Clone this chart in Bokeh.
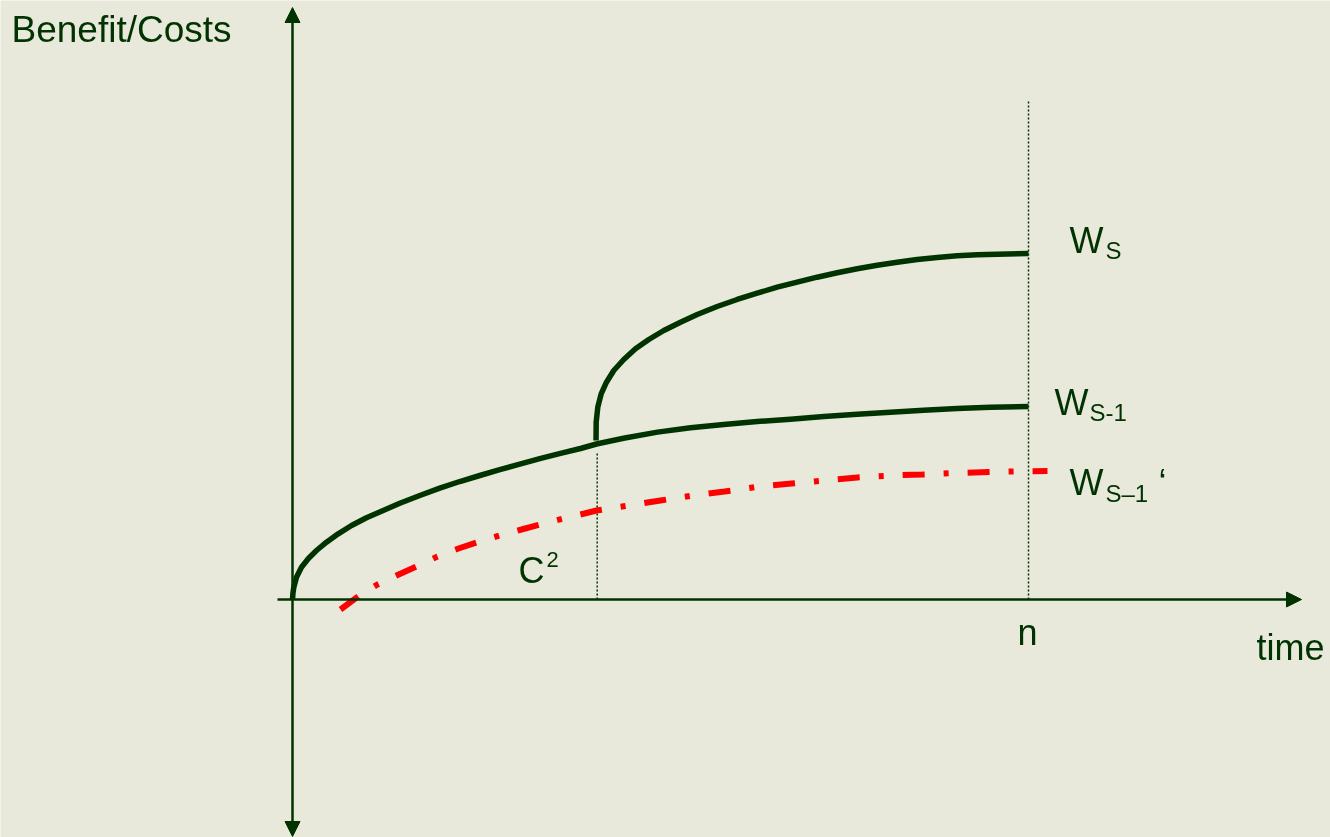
from bokeh.plotting import figure
from bokeh.models import Range1d, Arrow, NormalHead, Label
from bokeh.embed import file_html
from bokeh.resources import INLINE

# ---- data (time units: n = 10; benefit units arbitrary) ----
N_TIME = 10.0
C2_TIME = 4.13

ws1_t = [0.0, 0.007, 0.018, 0.054, 0.122, 0.213, 0.326, 0.462, 0.621, 0.802,
         1.005, 1.232, 1.458, 1.730, 2.001, 2.273, 2.545, 2.817, 3.088, 3.360,
         3.641, 3.913, 4.130, 4.497, 4.959, 5.408, 5.860, 6.314, 6.766, 7.219,
         7.673, 8.125, 8.577, 9.031, 9.484, 10.0]
ws1_v = [0.0, 0.202, 0.355, 0.645, 0.934, 1.176, 1.416, 1.656, 1.899, 2.139,
         2.361, 2.572, 2.783, 3.006, 3.217, 3.410, 3.584, 3.751, 3.913, 4.069,
         4.223, 4.364, 4.494, 4.659, 4.838, 4.962, 5.058, 5.145, 5.211, 5.289,
         5.355, 5.413, 5.471, 5.520, 5.558, 5.578]

ws_t = [4.124, 4.126, 4.148, 4.194, 4.266, 4.365, 4.501, 4.660, 4.841, 5.045,
        5.272, 5.499, 5.770, 6.042, 6.314, 6.586, 6.857, 7.129, 7.401, 7.673,
        7.944, 8.216, 8.488, 8.760, 9.031, 9.303, 9.575, 10.0]
ws_v = [4.595, 5.124, 5.558, 5.945, 6.280, 6.618, 6.936, 7.246, 7.514, 7.775,
        8.014, 8.237, 8.468, 8.671, 8.853, 9.026, 9.171, 9.315, 9.442, 9.558,
        9.662, 9.749, 9.827, 9.884, 9.934, 9.962, 9.980, 10.0]

ws1p_t = [0.652, 0.910, 1.155, 1.413, 1.712, 1.970, 2.255, 2.541, 2.813, 3.111,
          3.410, 3.682, 3.967, 4.130, 4.565, 5.000, 5.435, 5.870, 6.345, 6.780,
          7.215, 7.677, 8.125, 8.560, 9.022, 9.457, 9.891, 10.258]
ws1p_v = [-0.289, 0.116, 0.434, 0.694, 0.983, 1.243, 1.474, 1.676, 1.850, 2.023,
          2.197, 2.341, 2.486, 2.572, 2.717, 2.861, 3.006, 3.121, 3.266, 3.353,
          3.439, 3.526, 3.584, 3.613, 3.656, 3.685, 3.705, 3.714]

# ---- layout helpers (reference pixel -> data) ----
W, H = 1330, 837
OX, OY = 292.0, 599.0     # pixel of origin
XS, YS = 73.6, 34.6       # pixels per unit


def dx(px):
    return (px - OX) / XS


def dy(py):
    return (OY - py) / YS


BG = "#E8E8DB"
DG = "#003300"
FONT = "Liberation Sans"

p = figure(width=W, height=H, output_backend="svg", toolbar_location=None,
           x_range=Range1d(dx(0), dx(W)), y_range=Range1d(dy(H), dy(0)),
           min_border=0, min_border_left=0, min_border_right=0,
           min_border_top=0, min_border_bottom=0)
p.styles = {"position": "fixed", "left": "0px", "top": "0px"}
p.axis.visible = False
p.grid.visible = False
p.outline_line_color = None
p.background_fill_color = BG
p.border_fill_color = BG

# axes with arrow heads
p.add_layout(Arrow(x_start=dx(277), y_start=0, x_end=dx(1301), y_end=0,
                   line_color=DG, line_width=2.5,
                   end=NormalHead(size=15, fill_color=DG, line_color=DG, line_width=1)))
p.add_layout(Arrow(x_start=0, y_start=dy(836), x_end=0, y_end=dy(7),
                   line_color=DG, line_width=2.5,
                   start=NormalHead(size=15, fill_color=DG, line_color=DG, line_width=1),
                   end=NormalHead(size=15, fill_color=DG, line_color=DG, line_width=1)))

# dotted verticals
p.line([C2_TIME + 0.01, C2_TIME + 0.01], [0, dy(452)], line_color=DG, line_width=1.5, line_dash="2 2")
p.line([N_TIME, N_TIME], [0, dy(100)], line_color=DG, line_width=1.5, line_dash="2 2")

# curves
p.line(ws1_t, ws1_v, line_color=DG, line_width=5.5, line_join="round")
p.line(ws_t, ws_v, line_color=DG, line_width=5.5, line_join="round")
p.line(ws1p_t, ws1p_v, line_color="#FF0000", line_width=6, line_dash="22 19 5 19")

SHIFT = 13  # label baseline correction (px)


def lab(text, px, py, size, align="left"):
    p.add_layout(Label(x=dx(px), y=dy(py - SHIFT), text=text, text_font=FONT,
                       text_font_size=f"{size}px", text_color=DG,
                       text_align=align, text_baseline="alphabetic"))


lab("Benefit/Costs", 11, 42, 37)
lab("time", 1256, 660, 36)
lab("n", 1027, 645, 36, align="center")
lab("C", 518, 583, 36)
lab("2", 546, 572, 22)
lab("W", 1069, 253, 36)
lab("S", 1105, 263, 24)
lab("W", 1054, 415, 36)
lab("S-1", 1089, 425, 24)
lab("W", 1069, 495, 36)
lab("S\u20131", 1105, 506, 24)
lab("\u2018", 1158, 495, 36)

open("out.html", "w").write(file_html(p, INLINE))
